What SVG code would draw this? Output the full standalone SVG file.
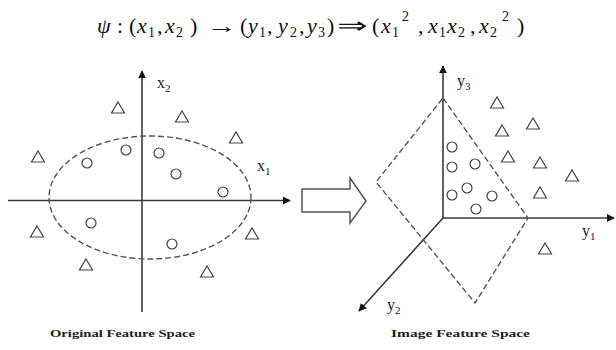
<svg xmlns="http://www.w3.org/2000/svg" xmlns:xlink="http://www.w3.org/1999/xlink" width="616" height="350" viewBox="0 0 616 350">
<style>
.ax{stroke:#3a3a3a;stroke-width:1.6;fill:none}
.dash{stroke:#555;stroke-width:1.4;fill:none;stroke-dasharray:6,3}
.pt{stroke:#444;stroke-width:1.2;fill:none}
.m{font-family:"Liberation Serif","Times New Roman",serif;font-size:22px;fill:#111}
.i{font-style:italic}
.s{font-size:14px}
.lab{font-family:"Liberation Serif",serif;font-size:16px;fill:#222}
.cap{font-family:"Liberation Serif",serif;font-size:11px;font-weight:bold;fill:#222}
</style>
<defs>
<marker id="ah" viewBox="0 0 10 10" refX="9" refY="5" markerWidth="8" markerHeight="8" markerUnits="userSpaceOnUse" orient="auto"><path d="M0,0 L10,5 L0,10 Z" fill="#111"/></marker>
<path id="tri" d="M0,-6 L6.5,5 L-6.5,5 Z" class="pt"/>
<circle id="cir" r="5" class="pt"/>
</defs>
<rect width="616" height="350" fill="#fff"/>

<g id="title">
<text class="m i" x="97" y="33">ψ</text>
<text class="m" x="117" y="33">:</text>
<text class="m" x="129" y="33">(</text>
<text class="m i" x="137" y="33">x</text><text class="m s" x="148" y="37">1</text>
<text class="m" x="157" y="33">,</text>
<text class="m i" x="165" y="33">x</text><text class="m s" x="176" y="37">2</text>
<text class="m" x="190" y="33">)</text>
<text class="m" x="207" y="33" textLength="30" lengthAdjust="spacingAndGlyphs">→</text>
<text class="m" x="240" y="33">(</text>
<text class="m i" x="248" y="33">y</text><text class="m s" x="259" y="37">1</text>
<text class="m" x="267" y="33">,</text>
<text class="m i" x="278" y="33">y</text><text class="m s" x="290" y="37">2</text>
<text class="m" x="299" y="33">,</text>
<text class="m i" x="307" y="33">y</text><text class="m s" x="318" y="37">3</text>
<text class="m" x="327" y="33">)</text>
<text class="m" x="337" y="33" textLength="30" lengthAdjust="spacingAndGlyphs">⇒</text>
<text class="m" x="372" y="33">(</text>
<text class="m i" x="381" y="33">x</text><text class="m s" x="392" y="37">1</text><text class="m s" x="402" y="21">2</text>
<text class="m" x="418" y="33">,</text>
<text class="m i" x="428" y="33">x</text><text class="m s" x="439" y="37">1</text>
<text class="m i" x="447" y="33">x</text><text class="m s" x="458" y="37">2</text>
<text class="m" x="470" y="33">,</text>
<text class="m i" x="479" y="33">x</text><text class="m s" x="490" y="37">2</text><text class="m s" x="502" y="21">2</text>
<text class="m" x="517" y="33">)</text>
</g>

<g id="connectors">
<line class="ax" x1="8" y1="200.5" x2="290" y2="200.5" marker-end="url(#ah)"/>
<line class="ax" x1="142" y1="312" x2="142" y2="71" marker-end="url(#ah)"/>
<line class="ax" x1="443" y1="218" x2="443" y2="66" marker-end="url(#ah)"/>
<line class="ax" x1="443" y1="218" x2="614" y2="218" marker-end="url(#ah)"/>
<line class="ax" x1="443" y1="218" x2="359" y2="311" marker-end="url(#ah)"/>
</g>

<g id="original-space">
<ellipse class="dash" cx="150" cy="197.5" rx="101" ry="61.5"/>
<text class="lab" x="157" y="88">x<tspan font-size="11" dy="4">2</tspan></text>
<text class="lab" x="257" y="171">x<tspan font-size="11" dy="4">1</tspan></text>
<use xlink:href="#tri" x="118" y="108"/>
<use xlink:href="#tri" x="182" y="117"/>
<use xlink:href="#tri" x="236" y="138"/>
<use xlink:href="#tri" x="38" y="157"/>
<use xlink:href="#tri" x="37" y="232"/>
<use xlink:href="#tri" x="86" y="265"/>
<use xlink:href="#tri" x="207" y="272"/>
<use xlink:href="#tri" x="252" y="234"/>
<use xlink:href="#cir" x="126" y="150"/>
<use xlink:href="#cir" x="87" y="163"/>
<use xlink:href="#cir" x="159" y="153"/>
<use xlink:href="#cir" x="176" y="174"/>
<use xlink:href="#cir" x="223" y="192"/>
<use xlink:href="#cir" x="91" y="223"/>
<use xlink:href="#cir" x="172" y="244"/>
<text class="cap" x="50" y="337" textLength="145" lengthAdjust="spacingAndGlyphs">Original Feature Space</text>
</g>

<g id="mapping-arrow">
<polygon points="302,189 350,189 350,178 366,201 350,223 350,212 302,212" fill="#fff" stroke="#555" stroke-width="1.5"/>
</g>

<g id="image-space">
<polygon class="dash" points="443,98 528,218 475,303 376,182"/>
<text class="lab" x="457" y="86">y<tspan font-size="11" dy="4">3</tspan></text>
<text class="lab" x="582" y="236">y<tspan font-size="11" dy="4">1</tspan></text>
<text class="lab" x="387" y="310">y<tspan font-size="11" dy="4">2</tspan></text>
<use xlink:href="#cir" x="452" y="147"/>
<use xlink:href="#cir" x="452" y="167"/>
<use xlink:href="#cir" x="475" y="164"/>
<use xlink:href="#cir" x="452" y="195"/>
<use xlink:href="#cir" x="467" y="188"/>
<use xlink:href="#cir" x="492" y="196"/>
<use xlink:href="#cir" x="476" y="209"/>
<use xlink:href="#tri" x="497" y="103"/>
<use xlink:href="#tri" x="533" y="124"/>
<use xlink:href="#tri" x="502" y="131"/>
<use xlink:href="#tri" x="508" y="157"/>
<use xlink:href="#tri" x="540" y="163"/>
<use xlink:href="#tri" x="572" y="176"/>
<use xlink:href="#tri" x="540" y="193"/>
<use xlink:href="#tri" x="545" y="249"/>
<text class="cap" x="391" y="337" textLength="139" lengthAdjust="spacingAndGlyphs">Image Feature Space</text>
</g>
</svg>
